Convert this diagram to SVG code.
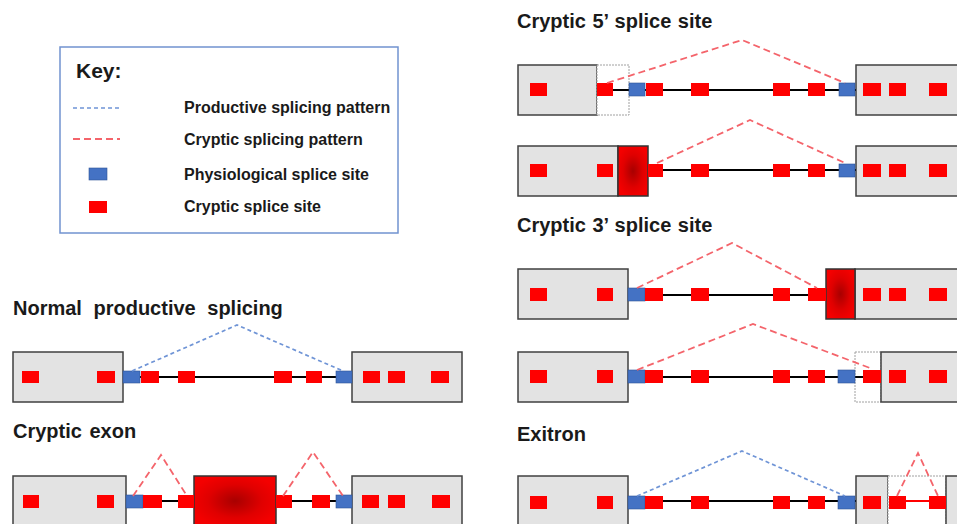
<svg xmlns="http://www.w3.org/2000/svg" width="957" height="524" viewBox="0 0 957 524">
<defs>
<radialGradient id="rg" cx="0.5" cy="0.5" r="0.55">
<stop offset="0" stop-color="#a80000"/>
<stop offset="0.6" stop-color="#e00000"/>
<stop offset="1" stop-color="#f40000"/>
</radialGradient>
<style>
text{font-family:"Liberation Sans",Arial,sans-serif;font-weight:bold;fill:#1a1a1a}
.title{font-size:20px}
.klab{font-size:16px}
.exon{fill:#e3e3e3;stroke:#404040;stroke-width:1.5}
.ghost{fill:#fff;stroke:#a0a0a0;stroke-width:1;stroke-dasharray:2 1}
.big{fill:url(#rg);stroke:#333;stroke-width:1.5}
.cs{fill:#ff0000}
.ps{fill:#4472c4;stroke:#2f5597;stroke-width:0.6}
.intron{stroke:#000;stroke-width:2;fill:none}
.rline{stroke:#ff0000;stroke-width:2;fill:none}
.crypt{fill:none;stroke:#f4646b;stroke-width:1.8;stroke-dasharray:7 4}
.prod{fill:none;stroke:#6f94d6;stroke-width:1.7;stroke-dasharray:4 3}
</style>
</defs>
<rect width="957" height="524" fill="#fff"/>

<!-- Key -->
<g id="key">
<rect x="60" y="47" width="338" height="186" fill="#fff" stroke="#7193d0" stroke-width="1.5"/>
<text x="76" y="78" style="font-size:21px">Key:</text>
<line x1="73" y1="108" x2="120" y2="108" class="prod" stroke-width="1.2" stroke-dasharray="3 3"/>
<text class="klab" x="184" y="113">Productive splicing pattern</text>
<line x1="73" y1="139" x2="120" y2="139" class="crypt"/>
<text class="klab" x="184" y="145">Cryptic splicing pattern</text>
<rect class="ps" x="89" y="168" width="18" height="12"/>
<text class="klab" x="184" y="180">Physiological splice site</text>
<rect class="cs" x="89" y="201" width="18" height="12"/>
<text class="klab" x="184" y="212">Cryptic splice site</text>
</g>

<!-- Titles -->
<text class="title" x="517" y="28" word-spacing="1">Cryptic 5’ splice site</text>
<text class="title" x="517" y="232" word-spacing="1">Cryptic 3’ splice site</text>
<text class="title" x="13" y="315" word-spacing="6">Normal productive splicing</text>
<text class="title" x="13" y="438" word-spacing="2">Cryptic exon</text>
<text class="title" x="517" y="441">Exitron</text>

<!-- Panel A: cryptic 5' (exon extension) -->
<g id="panelA">
<g id="A-exon1"><rect class="exon" x="518" y="65" width="79" height="50"/></g>
<g id="A-ext"><rect class="ghost" x="597" y="65" width="32" height="50"/></g>
<g id="A-exon2"><rect class="exon" x="856" y="65" width="112" height="50"/></g>
<line class="intron" x1="613" y1="90" x2="856" y2="90"/>
<rect class="cs" x="530" y="83" width="17" height="13"/>
<rect class="cs" x="597" y="83" width="16" height="13"/>
<rect class="ps" x="629" y="83" width="16" height="13"/>
<rect class="cs" x="646" y="83" width="17" height="13"/>
<rect class="cs" x="691" y="83" width="18" height="13"/>
<rect class="cs" x="773" y="83" width="17" height="13"/>
<rect class="cs" x="808" y="83" width="17" height="13"/>
<rect class="ps" x="839" y="83" width="16" height="13"/>
<rect class="cs" x="863" y="83" width="18" height="13"/>
<rect class="cs" x="889" y="83" width="17" height="13"/>
<rect class="cs" x="929" y="83" width="18" height="13"/>
</g>

<!-- Panel B: cryptic 5' (exon shortening) -->
<g id="panelB">
<g id="B-exon1"><rect class="exon" x="518" y="146" width="100" height="50"/></g>
<g id="B-lost"><rect class="big" x="618" y="146" width="30" height="50"/></g>
<g id="B-exon2"><rect class="exon" x="856" y="146" width="112" height="50"/></g>
<line class="intron" x1="648" y1="170" x2="856" y2="170"/>
<rect class="cs" x="530" y="164" width="17" height="13"/>
<rect class="cs" x="597" y="164" width="16" height="13"/>
<rect class="cs" x="648" y="164" width="15" height="13"/>
<rect class="cs" x="691" y="164" width="18" height="13"/>
<rect class="cs" x="773" y="164" width="17" height="13"/>
<rect class="cs" x="808" y="164" width="17" height="13"/>
<rect class="ps" x="839" y="164" width="16" height="13"/>
<rect class="cs" x="863" y="164" width="18" height="13"/>
<rect class="cs" x="889" y="164" width="17" height="13"/>
<rect class="cs" x="929" y="164" width="18" height="13"/>
</g>

<!-- Panel C: cryptic 3' (exon shortening) -->
<g id="panelC">
<g id="C-exon1"><rect class="exon" x="518" y="269" width="110" height="50"/></g>
<g id="C-exon2"><rect class="exon" x="855" y="269" width="113" height="50"/></g>
<g id="C-lost"><rect class="big" x="826" y="269" width="29" height="50"/></g>
<line class="intron" x1="645" y1="295" x2="826" y2="295"/>
<rect class="cs" x="530" y="288" width="17" height="13"/>
<rect class="cs" x="597" y="288" width="16" height="13"/>
<rect class="ps" x="628" y="288" width="17" height="13"/>
<rect class="cs" x="645" y="288" width="18" height="13"/>
<rect class="cs" x="691" y="288" width="18" height="13"/>
<rect class="cs" x="773" y="288" width="17" height="13"/>
<rect class="cs" x="808" y="288" width="18" height="13"/>
<rect class="cs" x="863" y="288" width="18" height="13"/>
<rect class="cs" x="889" y="288" width="17" height="13"/>
<rect class="cs" x="929" y="288" width="18" height="13"/>
</g>

<!-- Panel D: cryptic 3' (exon extension) -->
<g id="panelD">
<g id="D-exon1"><rect class="exon" x="518" y="352" width="110" height="50"/></g>
<g id="D-ext"><rect class="ghost" x="855" y="352" width="26" height="50"/></g>
<g id="D-exon2"><rect class="exon" x="881" y="352" width="87" height="50"/></g>
<line class="intron" x1="645" y1="377" x2="863" y2="377"/>
<rect class="cs" x="530" y="370" width="17" height="13"/>
<rect class="cs" x="597" y="370" width="16" height="13"/>
<rect class="ps" x="628" y="370" width="17" height="13"/>
<rect class="cs" x="645" y="370" width="18" height="13"/>
<rect class="cs" x="691" y="370" width="18" height="13"/>
<rect class="cs" x="773" y="370" width="17" height="13"/>
<rect class="cs" x="808" y="370" width="17" height="13"/>
<rect class="ps" x="838" y="370" width="17" height="13"/>
<rect class="cs" x="863" y="370" width="18" height="13"/>
<rect class="cs" x="889" y="370" width="17" height="13"/>
<rect class="cs" x="929" y="370" width="18" height="13"/>
</g>

<!-- Panel E: normal productive splicing -->
<g id="panelE">
<g id="E-exon1"><rect class="exon" x="13" y="352" width="110" height="50"/></g>
<g id="E-exon2"><rect class="exon" x="352" y="352" width="110" height="50"/></g>
<line class="intron" x1="140" y1="377" x2="336" y2="377"/>
<rect class="cs" x="22" y="371" width="17" height="12"/>
<rect class="cs" x="97" y="371" width="18" height="12"/>
<rect class="ps" x="123" y="371" width="17" height="12"/>
<rect class="cs" x="141" y="371" width="18" height="12"/>
<rect class="cs" x="178" y="371" width="17" height="12"/>
<rect class="cs" x="274" y="371" width="18" height="12"/>
<rect class="cs" x="306" y="371" width="16" height="12"/>
<rect class="ps" x="336" y="371" width="16" height="12"/>
<rect class="cs" x="363" y="371" width="17" height="12"/>
<rect class="cs" x="388" y="371" width="17" height="12"/>
<rect class="cs" x="431" y="371" width="18" height="12"/>
</g>

<!-- Panel F: cryptic exon -->
<g id="panelF">
<g id="F-exon1"><rect class="exon" x="13" y="476" width="113" height="50"/></g>
<g id="F-cexon"><rect class="big" x="194" y="476" width="82" height="50"/></g>
<g id="F-exon2"><rect class="exon" x="352" y="476" width="110" height="50"/></g>
<line class="intron" x1="143" y1="501" x2="194" y2="501"/>
<line class="intron" x1="276" y1="501" x2="352" y2="501"/>
<rect class="cs" x="23" y="495" width="16" height="13"/>
<rect class="cs" x="97" y="495" width="17" height="13"/>
<rect class="ps" x="126" y="495" width="17" height="13"/>
<rect class="cs" x="143" y="495" width="19" height="13"/>
<rect class="cs" x="178" y="495" width="16" height="13"/>
<rect class="cs" x="276" y="495" width="16" height="13"/>
<rect class="cs" x="312" y="495" width="18" height="13"/>
<rect class="ps" x="336" y="495" width="16" height="13"/>
<rect class="cs" x="362" y="495" width="17" height="13"/>
<rect class="cs" x="388" y="495" width="17" height="13"/>
<rect class="cs" x="432" y="495" width="18" height="13"/>
</g>

<!-- Panel G: exitron -->
<g id="panelG">
<g id="G-exon1"><rect class="exon" x="518" y="476" width="110" height="50"/></g>
<g id="G-exon2"><rect class="exon" x="856" y="476" width="32" height="50"/></g>
<g id="G-exitron"><rect class="ghost" x="888" y="476" width="58" height="50"/></g>
<g id="G-exon3"><rect class="exon" x="946" y="476" width="22" height="50"/></g>
<line class="intron" x1="645" y1="501" x2="856" y2="501"/>
<line class="rline" x1="906" y1="501" x2="929" y2="501"/>
<rect class="cs" x="530" y="496" width="17" height="13"/>
<rect class="cs" x="597" y="496" width="16" height="13"/>
<rect class="ps" x="628" y="496" width="17" height="13"/>
<rect class="cs" x="645" y="496" width="18" height="13"/>
<rect class="cs" x="691" y="496" width="18" height="13"/>
<rect class="cs" x="773" y="496" width="17" height="13"/>
<rect class="cs" x="808" y="496" width="17" height="13"/>
<rect class="ps" x="838" y="496" width="17" height="13"/>
<rect class="cs" x="863" y="496" width="18" height="13"/>
<rect class="cs" x="889" y="496" width="17" height="13"/>
<rect class="cs" x="929" y="496" width="17" height="13"/>
</g>

<!-- Connectors: splicing patterns -->
<g id="connectors">
<path class="crypt" d="M607,83 L742,40 L845,83"/>
<path class="crypt" d="M657,163 L750,120 L845,163"/>
<path class="crypt" d="M637,288 L732,243 L817,288"/>
<path class="crypt" d="M637,370 L753,324 L870,368"/>
<path class="prod" d="M132,371 L237,325 L343,371"/>
<path class="crypt" d="M133,496 L161,455 L187,496"/>
<path class="crypt" d="M283,496 L313,452 L343,496"/>
<path class="prod" d="M637,496 L742,451 L845,496"/>
<path class="crypt" d="M897,496 L918,453 L938,496"/>
</g>
</svg>
